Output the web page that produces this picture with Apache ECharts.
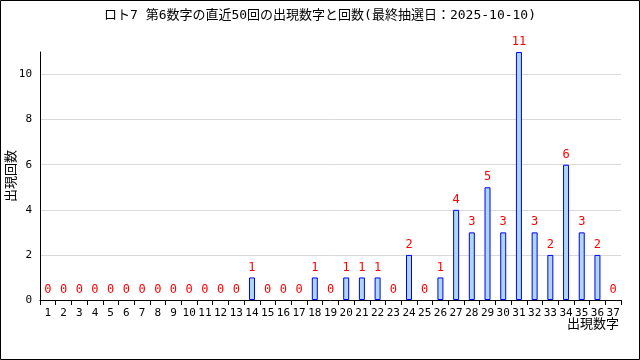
<!DOCTYPE html>
<html><head><meta charset="utf-8">
<script src="https://cdn.jsdelivr.net/npm/echarts@6/dist/echarts.min.js"></script>
<style>html,body{margin:0;padding:0;background:#fff}#c{width:640px;height:360px}</style>
</head><body><div id="c"></div>
<script>
const titleText = 'ロト7 第6数字の直近50回の出現数字と回数(最終抽選日：2025-10-10)';
const categories = ['1','2','3','4','5','6','7','8','9','10','11','12','13','14','15','16','17','18','19','20','21','22','23','24','25','26','27','28','29','30','31','32','33','34','35','36','37'];
const counts = [0,0,0,0,0,0,0,0,0,0,0,0,0,1,0,0,0,1,0,1,1,1,0,2,0,1,4,3,5,3,11,3,2,6,3,2,0];
const xName = '出現数字';
const yName = '出現回数';
const yMin = 0, yMax = 11, yInterval = 2;

const FONT = '"DejaVu Sans Mono", "Noto Sans CJK JP", monospace';
const barData = counts.map(v => v === 0 ? {value: v, itemStyle: {borderColor: 'transparent'}} : v);
const chart = echarts.init(document.getElementById('c'), null, {renderer:'canvas'});
chart.setOption({
  animation: false,
  backgroundColor: '#fff',
  title: {
    text: titleText, left: 'center', top: 4,
    textStyle: {fontFamily: FONT, fontSize: 13, fontWeight: 'normal', color: '#000'}
  },
  grid: {left: 40, right: 19, top: 52, bottom: 60, containLabel: false, outerBoundsMode: 'none'},
  xAxis: {
    type: 'category', data: categories,
    axisLine: {lineStyle: {color: '#000', width: 1}},
    axisTick: {show: true, interval: 0, length: 5, lineStyle: {color: '#000'}},
    axisLabel: {interval: 0, fontFamily: FONT, fontSize: 11, color: '#000', margin: 8},
    splitLine: {show: false}
  },
  yAxis: {
    type: 'value', min: yMin, max: yMax, interval: yInterval,
    name: yName, nameLocation: 'middle', nameGap: 23, nameRotate: 90, nameMoveOverlap: false,
    nameTextStyle: {fontFamily: '"Noto Sans CJK JP", sans-serif', fontSize: 13, color: '#000'},
    axisLine: {show: true, lineStyle: {color: '#000', width: 1}},
    axisTick: {show: false},
    axisLabel: {fontFamily: FONT, fontSize: 11, color: '#000', margin: 8, showMaxLabel: false},
    splitLine: {show: true, showMinLine: false, showMaxLine: false, lineStyle: {color: '#d9d9d9', width: 1}}
  },
  series: [{
    type: 'bar', data: barData, barWidth: 6,
    itemStyle: {color: '#add8e6', borderColor: '#0000ff', borderWidth: 1},
    label: {show: true, position: 'top', distance: 4, color: '#ff0000', fontFamily: FONT, fontSize: 12}
  }],
  graphic: [{
    type: 'rect', shape: {x: 0.5, y: 0.5, width: 639, height: 359},
    style: {fill: 'none', stroke: '#000', lineWidth: 1}, z: 100
  }, {
    type: 'text', right: 21, top: 317,
    style: {text: xName, font: '13px "Noto Sans CJK JP", sans-serif', fill: '#000'}
  }]
});
</script></body></html>
